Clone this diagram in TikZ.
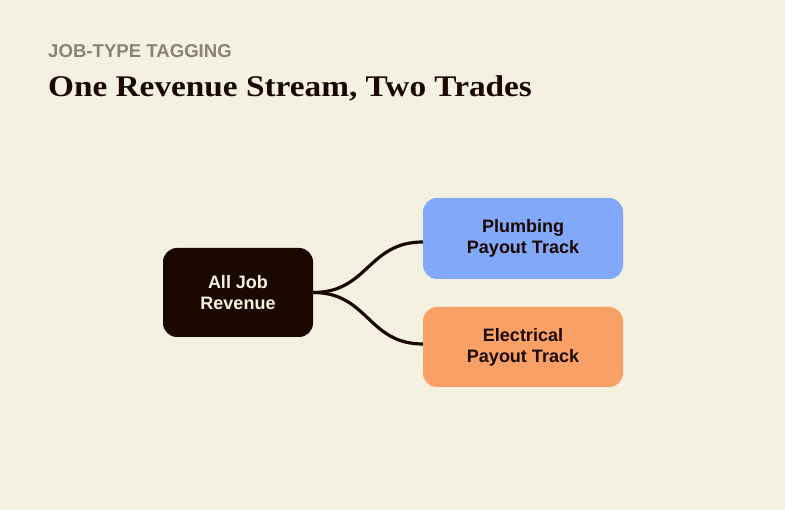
\documentclass[tikz,border=0pt]{standalone}
\usepackage{fontspec}
\setmainfont{Liberation Serif}
\setsansfont{Liberation Sans}
\definecolor{bg}{HTML}{F5F1E0}
\definecolor{ink}{HTML}{1A0800}
\definecolor{muted}{HTML}{8A8278}
\definecolor{blue}{HTML}{82A9F9}
\definecolor{orange}{HTML}{F9A066}
\definecolor{cream}{HTML}{F5F1E0}
\tikzset{
  box/.style={rounded corners=14pt, inner sep=0pt, align=center,
    font=\sffamily\bfseries\fontsize{18}{21}\selectfont},
  link/.style={draw=ink, line width=3.2pt},
}
\begin{document}
\begin{tikzpicture}[x=1pt,y=-1pt]
\fill[bg] (0,0) rectangle (785,510);
\useasboundingbox (0,0) rectangle (785,510);
\node[anchor=base west, text=muted, font=\sffamily\bfseries\fontsize{18.6}{20}\selectfont, inner sep=0pt] (kicker) at (48,58) {JOB-TYPE TAGGING};
\node[anchor=base west, text=ink, font=\bfseries\fontsize{30}{32}\selectfont\addfontfeature{FakeStretch=1.11}, inner sep=0pt] (title) at (48,97) {One Revenue Stream, Two Trades};
\node[box, fill=ink, text=cream, minimum width=150pt, minimum height=89pt] (src) at (238,292.5) {All Job\\Revenue};
\node[box, fill=blue, text=ink, minimum width=200pt, minimum height=81pt] (plumb) at (523,238.5) {Plumbing\\Payout Track};
\node[box, fill=orange, text=ink, minimum width=200pt, minimum height=80pt] (elec) at (523,347) {Electrical\\Payout Track};
\coordinate (p1) at ([yshift=-3.5pt]plumb.west);
\coordinate (e1) at ([yshift=3pt]elec.west);
\draw[link] (src.east) .. controls +(55,0) and +(-55,0) .. (p1);
\draw[link] (src.east) .. controls +(55,0) and +(-55,0) .. (e1);
\end{tikzpicture}
\end{document}
